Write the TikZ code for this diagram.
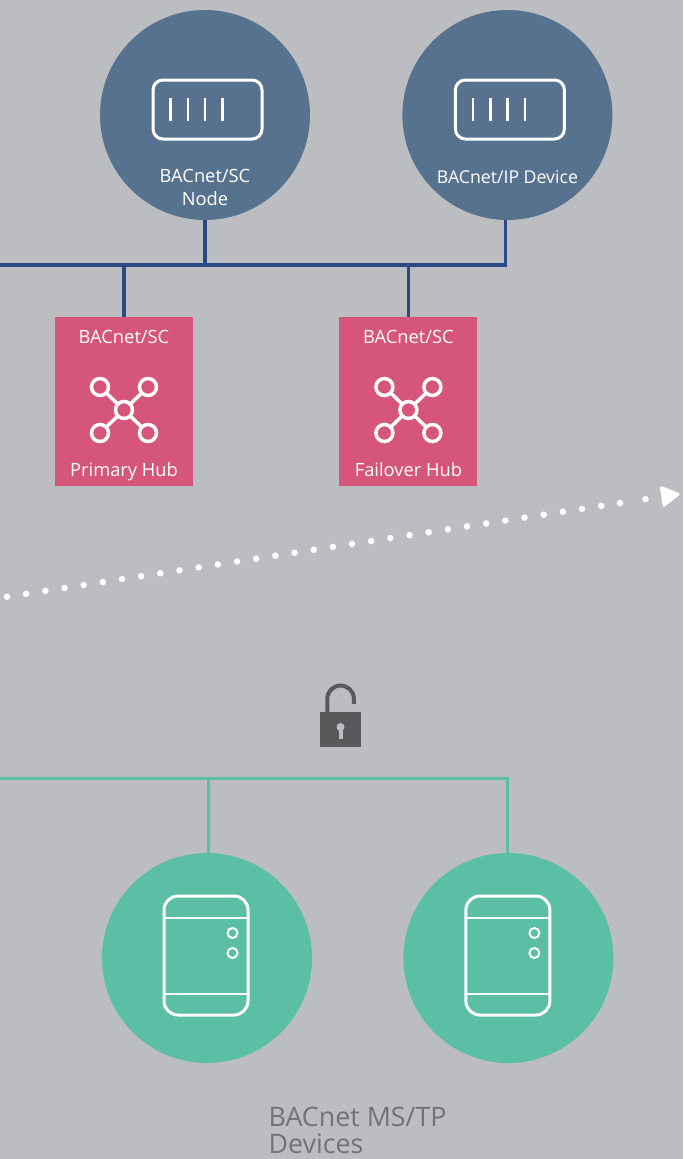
\documentclass[tikz,border=0pt]{standalone}
\usepackage{xcolor}
\usepackage{fontspec}
\setmainfont{Open Sans}
\usetikzlibrary{positioning, arrows.meta}

\definecolor{bgGray}{HTML}{BCBDC0}
\definecolor{nodeBlue}{HTML}{57728F}
\definecolor{busBlue}{HTML}{2B4A85}
\definecolor{hubPink}{HTML}{D5567A}
\definecolor{mstpGreen}{HTML}{5BBFA5}
\definecolor{lockGray}{HTML}{58595B}
\definecolor{textGray}{HTML}{727376}

\begin{document}
\begin{tikzpicture}[x=1pt, y=-1pt, >=Stealth,
      scnode/.style={circle, fill=nodeBlue, minimum size=210pt, inner sep=0pt},
      mstpnode/.style={circle, fill=mstpGreen, minimum size=210pt, inner sep=0pt},
      hub/.style={fill=hubPink, minimum width=138pt, minimum height=169pt, inner sep=0pt},
      whitetext/.style={text=white, font=\fontsize{18.3}{23}\selectfont, align=center, inner sep=0pt},
      bluebus/.style={draw=busBlue, line width=3.3pt},
      greenbus/.style={draw=mstpGreen, line width=3pt},
      dots/.style={draw=white, line width=6.5pt, line cap=round},
      icon/.style={draw=white, line width=3pt},
      routericon/.pic={
        \draw[icon, rounded corners=10pt] (-54.5,-29.5) rectangle (54.5,29.5);
        \foreach \x in {-37,-19.5,-2.5,15}
          \draw[icon, line width=2.5pt] (\x,-11.5) -- (\x,11.5);
      },
      deviceicon/.pic={
        \draw[icon, rounded corners=14pt] (-42,-59.5) rectangle (42,59.5);
        \draw[icon, line width=2pt] (-42,-37.5) -- (42,-37.5);
        \draw[icon, line width=2pt] (-42,38.5) -- (42,38.5);
        \foreach \y in {-22.5,-2.5}
          \draw[icon, line width=2pt] (26.5,\y) circle (5);
      },
      hubicon/.pic={
        \foreach \x/\y in {-24/-23, 24/-23, -24/23, 24/23} {
          \draw[icon, line width=3.5pt] (0,0) -- (\x,\y);
          \draw[icon, line width=3.5pt, fill=hubPink] (\x,\y) circle (8.5);
        }
        \draw[icon, line width=3.5pt, fill=hubPink] (0,0) circle (8.5);
      }]

    \fill[bgGray] (0,0) rectangle (683,1159);
    \useasboundingbox (0,0) rectangle (683,1159);

    % top row
    \coordinate (bluebusleft) at (0,265);
    \node[scnode] (scdevice) at (205,115) {};
    \node[scnode, right=92pt of scdevice] (ipdevice) {};
    \node[hub] (primary) at (124,401.5) {};
    \node[hub, right=146pt of primary] (failover) {};

    \draw[bluebus] (bluebusleft) -| ([xshift=-2pt]ipdevice.south);
    \draw[bluebus] (scdevice.south) -- (scdevice.south |- bluebusleft);
    \draw[bluebus] (primary.north) -- (primary.north |- bluebusleft);
    \draw[bluebus] (failover.north) -- (failover.north |- bluebusleft);

    \pic at ([xshift=2.5pt, yshift=5.5pt]scdevice.center) {routericon};
    \pic at ([xshift=2.5pt, yshift=5.5pt]ipdevice.center) {routericon};
    \node[whitetext] (sclabel) at ([yshift=-72.5pt]scdevice.center) {BACnet/SC\\Node};
    \node[whitetext, anchor=base, font=\fontsize{17.7}{23}\selectfont] (iplabel) at ([yshift=-68pt]ipdevice.center) {BACnet/IP Device};

    \foreach \h/\name in {primary/Primary Hub, failover/Failover Hub} {
      \pic at ([yshift=-8.5pt]\h.center) {hubicon};
      \node[whitetext, anchor=base] (\h top) at ([yshift=58.5pt]\h.center) {BACnet/SC};
      \node[whitetext, anchor=base] (\h bottom) at ([yshift=-74.5pt]\h.center) {\name};
    }

    % dotted link
    \coordinate (dotstart) at (7,596.7);
    \coordinate (dotmid) at (620,503);
    \coordinate (dotend) at (679.5,494);
    \draw[dots, dash pattern=on 0pt off 19.39pt] (dotstart) -- (dotmid);
    \draw[dots, dash pattern=on 0pt off 25.8pt,
      -{Triangle[round, line width=3pt, length=20pt, width=22pt, fill=white]}] (dotmid) -- (dotend);

    % lock
    \coordinate (lockpos) at (340.5,729.5);
    \node[fill=lockGray, minimum width=41pt, minimum height=35pt, inner sep=0pt] (lock) at (lockpos) {};
    \draw[draw=lockGray, line width=4pt] (lock.north west) ++(7.5,0) -- ++(0,-13)
      arc[start angle=180, end angle=360, radius=13.3] -- ++(0,5);
    \fill[bgGray] (lock.center) ++(0,-2.5) circle (4);
    \fill[bgGray] (lock.center) ++(-2,-2.5) rectangle ++(4,12);

    % bottom row
    \coordinate (greenbusleft) at (0,778);
    \node[mstpnode] (mstpone) at (207,958) {};
    \node[mstpnode, right=91pt of mstpone] (mstptwo) {};

    \draw[greenbus] (greenbusleft) -| ([xshift=-1pt]mstptwo.north);
    \draw[greenbus] ([xshift=1pt]mstpone.north) -- ([xshift=1pt]mstpone.north |- greenbusleft);

    \pic at ([xshift=-1pt, yshift=2.5pt]mstpone.center) {deviceicon};
    \pic at ([xshift=-0.5pt, yshift=2.5pt]mstptwo.center) {deviceicon};

    \node[text=textGray, font=\fontsize{26.8}{27}\selectfont, align=left, inner sep=0pt, anchor=north west] (mstplabel)
      at (268.5,1107) {BACnet MS/TP\\Devices};
\end{tikzpicture}
\end{document}
